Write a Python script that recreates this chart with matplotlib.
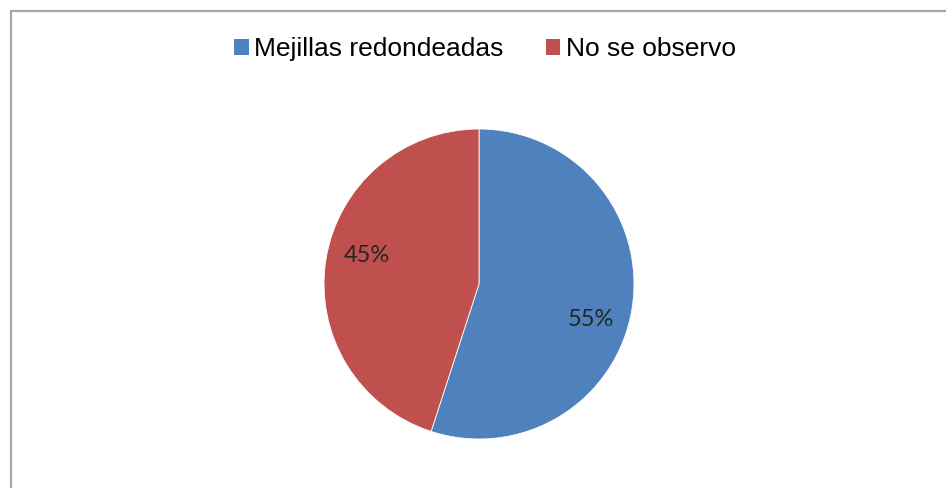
import numpy as np
import matplotlib
matplotlib.use('Agg')
import matplotlib.pyplot as plt
from matplotlib.lines import Line2D
from matplotlib.patches import Patch

labels = ['Mejillas redondeadas', 'No se observo']
values = [55, 45]
colors = ['#4F81BD', '#C0504D']

W, H = 946, 488
fig = plt.figure(figsize=(W / 100, H / 100), dpi=100, facecolor='white')

# chart frame (only top and left edges show)
fx = lambda px: px / W
fy = lambda py: 1 - py / H
fig.add_artist(Line2D([fx(11), fx(11), 1.0], [0.0, fy(11), fy(11)],
                      color='#A6A6A6', lw=1.6, transform=fig.transFigure))

# pie axes: centre (479, 284), radius 155 px
cx, cy, r = 479, 284, 155
ax = fig.add_axes([fx(cx - r), fy(cy + r), 2 * r / W, 2 * r / H])
wedges, _, autotexts = ax.pie(values, colors=colors, startangle=90, counterclock=False,
                              autopct='%1.0f%%', pctdistance=0.75,
                              wedgeprops=dict(edgecolor='white', linewidth=0.6),
                              textprops=dict(fontsize=17, color='#262626', family='Lato'))
# nudge the percentage labels a little clockwise, best-fit style
for w, t in zip(wedges, autotexts):
    ang = np.deg2rad((w.theta1 + w.theta2) / 2 - 7)
    x, y = 0.75 * np.cos(ang), 0.75 * np.sin(ang)
    t.set_position((x, y - 0.025))
ax.set_xlim(-1, 1)
ax.set_ylim(-1, 1)
ax.set_aspect('equal')
ax.axis('off')

handles = [Patch(facecolor=c, edgecolor='none') for c in colors]
fig.legend(handles, labels, loc='center', bbox_to_anchor=(fx(485), fy(49)), ncol=2,
           frameon=False, prop=dict(family='Liberation Sans', size=19),
           handlelength=0.55, handleheight=0.55, handletextpad=0.2, columnspacing=1.6)

fig.savefig('out.png', dpi=100, facecolor='white')
